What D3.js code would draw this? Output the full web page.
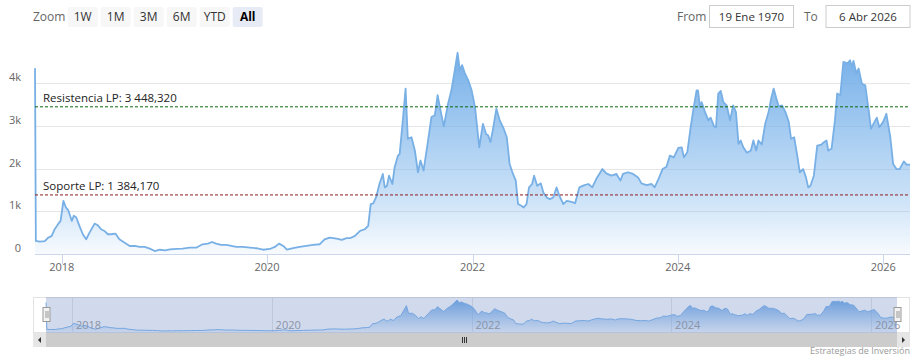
<!DOCTYPE html>
<html>
<head>
<meta charset="utf-8">
<script src="https://cdn.jsdelivr.net/npm/d3@7"></script>
<style>
  body { margin: 0; background: #fff; }
  svg { font-family: "Open Sans", sans-serif; display: block; }
</style>
</head>
<body>
<script>
// weekly-ish closes
var dates = [
  "2017-09-28","2017-10-01","2017-10-15","2017-11-02","2017-11-14","2017-11-26","2017-12-07","2017-12-19","2017-12-28",
  "2018-01-07","2018-01-16","2018-01-24","2018-02-06","2018-02-13","2018-02-22","2018-03-05","2018-03-17","2018-03-29",
  "2018-04-10","2018-04-28","2018-05-09","2018-05-21","2018-06-02","2018-06-14","2018-06-26","2018-07-11","2018-07-25",
  "2018-08-13","2018-08-31","2018-09-18","2018-10-05","2018-10-23","2018-11-10","2018-11-28","2018-12-16",
  "2019-01-03","2019-01-21","2019-02-13","2019-03-07","2019-04-01","2019-04-24","2019-05-17","2019-06-05","2019-06-20",
  "2019-07-04","2019-07-22","2019-08-10","2019-08-27","2019-09-14","2019-10-07","2019-11-01","2019-11-24","2019-12-18",
  "2020-01-11","2020-01-29","2020-02-13","2020-02-28","2020-03-12","2020-04-03","2020-04-26","2020-05-20","2020-06-13",
  "2020-07-06","2020-07-24","2020-08-11","2020-09-05","2020-09-23","2020-10-10","2020-10-22","2020-11-09","2020-11-27",
  "2020-12-14","2020-12-26","2021-01-04","2021-01-13","2021-01-23","2021-02-04","2021-02-16","2021-02-23","2021-03-03",
  "2021-03-10","2021-03-22","2021-03-30","2021-04-11","2021-04-17","2021-04-27","2021-05-08","2021-05-16","2021-05-29",
  "2021-06-10","2021-06-21","2021-06-30","2021-07-11","2021-07-27","2021-08-08","2021-08-20","2021-08-30","2021-09-07",
  "2021-09-21","2021-10-06","2021-10-18","2021-10-30","2021-11-09","2021-11-17","2021-11-25","2021-12-05","2021-12-17",
  "2021-12-29","2022-01-10","2022-01-25","2022-02-07","2022-02-18","2022-02-26","2022-03-06","2022-03-14","2022-03-27",
  "2022-04-08","2022-04-22","2022-05-03","2022-05-13","2022-05-25","2022-06-04","2022-06-12","2022-06-24","2022-07-02",
  "2022-07-12","2022-07-21","2022-08-01","2022-08-08","2022-08-19","2022-09-01","2022-09-10","2022-09-22","2022-10-03",
  "2022-10-15","2022-10-27","2022-11-06","2022-11-20","2022-12-02","2022-12-16","2023-01-01","2023-01-16","2023-02-03",
  "2023-02-17","2023-03-03","2023-03-17","2023-04-08","2023-04-22","2023-05-10","2023-05-28","2023-06-11","2023-06-20",
  "2023-07-08","2023-07-26","2023-08-13","2023-08-25","2023-09-12","2023-09-30","2023-10-11","2023-10-27","2023-11-08",
  "2023-11-22","2023-12-04","2023-12-18","2024-01-03","2024-01-15","2024-01-23","2024-02-04","2024-02-16","2024-02-25",
  "2024-03-08","2024-03-13","2024-03-20","2024-03-26","2024-04-07","2024-04-19","2024-04-27","2024-05-09","2024-05-16",
  "2024-05-24","2024-06-02","2024-06-11","2024-06-23","2024-07-05","2024-07-16","2024-07-26","2024-08-04","2024-08-12",
  "2024-08-21","2024-09-03","2024-09-17","2024-09-26","2024-10-06","2024-10-14","2024-10-26","2024-11-07","2024-11-19",
  "2024-11-28","2024-12-07","2024-12-17","2024-12-25","2025-01-06","2025-01-18","2025-01-30","2025-02-07","2025-02-18",
  "2025-03-01","2025-03-10","2025-03-22","2025-04-01","2025-04-09","2025-04-17","2025-04-29","2025-05-11","2025-05-26",
  "2025-06-04","2025-06-13","2025-06-19","2025-07-01","2025-07-13","2025-07-21","2025-08-01","2025-08-12","2025-08-26",
  "2025-09-05","2025-09-11","2025-09-17","2025-09-27","2025-10-05","2025-10-17","2025-10-29","2025-11-10","2025-11-18",
  "2025-11-27","2025-12-09","2025-12-18","2025-12-31","2026-01-12","2026-01-26","2026-02-05","2026-02-17","2026-02-28",
  "2026-03-15","2026-03-25","2026-04-06"
];
var prices = [
  4350,306,290,300,385,420,580,700,775,
  1245,1090,1030,775,895,855,660,463,345,
  500,713,675,580,540,463,463,478,345,
  266,188,188,165,165,125,70,100,
  86,110,118,125,148,148,228,243,282,
  243,212,212,188,165,165,148,135,100,
  118,165,243,188,100,135,165,188,212,
  228,345,385,360,330,370,370,424,540,
  580,660,1170,1185,1325,1640,1875,1560,1600,
  1835,1640,2030,2305,2345,3050,3875,2700,2735,
  2425,1915,2190,1955,2660,3210,3250,3720,3440,
  2990,3520,3835,4305,4715,4305,4425,4230,4070,
  3835,3440,2500,3050,2815,2775,2620,2895,3405,
  3130,2935,2735,2110,1875,1720,1170,1130,1090,
  1170,1560,1640,1835,1600,1655,1440,1325,1285,
  1325,1560,1365,1170,1245,1225,1190,1560,1615,
  1640,1560,1755,1990,1890,1835,1875,1720,1875,
  1915,1875,1795,1655,1615,1640,1560,1795,1990,
  2045,2305,2265,2485,2500,2265,2385,2970,3365,
  3835,3835,3440,3560,3325,3130,3195,2990,2970,
  3760,3820,3560,3480,3130,3480,3325,2580,2660,
  2500,2370,2425,2660,2425,2660,2565,3050,3325,
  3640,3875,3640,3460,3480,3325,3090,2700,2735,
  2305,1915,1990,1795,1560,1600,1835,2540,2565,
  2620,2660,2425,2465,3130,3760,3720,4500,4465,
  4540,4385,4525,4230,4345,3990,3950,3365,2935,
  3050,3195,2970,3090,3285,2735,2110,1990,1990,
  2170,2095,2095
];
var yTicks = [0, 1000, 2000, 3000, 4000];
var yTickLabels = ["0", "1k", "2k", "3k", "4k"];
var xTickYears = [2018, 2020, 2022, 2024, 2026];
var zoomButtons = ["1W", "1M", "3M", "6M", "YTD", "All"];
var levelNames = ["Resistencia LP", "Soporte LP"];
var levelValues = [3448.32, 1384.17];
var levelColors = ["#0a6a0a", "#8b1a1a"];

var parse = d3.timeParse("%Y-%m-%d");
var data = dates.map(function(d, i) { return { date: parse(d), value: prices[i] }; });

var svg = d3.select("body").append("svg")
            .attr("width", 922)
            .attr("height", 364);

var defs = svg.append("defs");

// main plot scales
var x = d3.scaleTime()
          .domain(d3.extent(data, function(d) { return d.date; }))
          .range([35, 910]);
var y = d3.scaleLinear()
          .domain([0, 5000])
          .range([254, 40.6]);

var grad = defs.append("linearGradient")
               .attr("id", "mainFill")
               .attr("gradientUnits", "userSpaceOnUse")
               .attr("x1", 0).attr("x2", 0)
               .attr("y1", 50).attr("y2", 254);
grad.append("stop").attr("offset", 0).attr("stop-color", "#74aee8").attr("stop-opacity", 1);
grad.append("stop").attr("offset", 0.7).attr("stop-color", "#7cb5ec").attr("stop-opacity", 0.42);
grad.append("stop").attr("offset", 1).attr("stop-color", "#7cb5ec").attr("stop-opacity", 0.06);

// gridlines + y labels
svg.append("g").selectAll("line")
   .data(yTicks.slice(1))
   .enter().append("line")
   .attr("x1", 35).attr("x2", 910)
   .attr("y1", function(d) { return Math.round(y(d)) + 0.5; })
   .attr("y2", function(d) { return Math.round(y(d)) + 0.5; })
   .style("stroke", "#e6e6e6");

svg.append("g").selectAll("text")
   .data(yTicks)
   .enter().append("text")
   .attr("x", 21)
   .attr("y", function(d) { return y(d) - 2; })
   .attr("text-anchor", "end")
   .style("font-size", "11px")
   .style("fill", "#666")
   .text(function(d, i) { return yTickLabels[i]; });

// area + line
var area = d3.area()
             .x(function(d) { return x(d.date); })
             .y0(y(0))
             .y1(function(d) { return y(d.value); });
var line = d3.line()
             .x(function(d) { return x(d.date); })
             .y(function(d) { return y(d.value); });

svg.append("path")
   .datum(data)
   .attr("d", area)
   .style("fill", "url(#mainFill)");
svg.append("path")
   .datum(data)
   .attr("d", line)
   .style("fill", "none")
   .style("stroke", "#78b0e6")
   .style("stroke-width", 1.8)
   .style("stroke-linejoin", "round");

// x axis
svg.append("line")
   .attr("x1", 35).attr("x2", 910)
   .attr("y1", 254.5).attr("y2", 254.5)
   .style("stroke", "#ccd6eb");
var yearTicks = xTickYears.map(function(yr) { return new Date(yr, 0, 1); });
svg.append("g").selectAll("line")
   .data(yearTicks)
   .enter().append("line")
   .attr("x1", function(d) { return Math.round(x(d)) + 0.5; })
   .attr("x2", function(d) { return Math.round(x(d)) + 0.5; })
   .attr("y1", 255).attr("y2", 264)
   .style("stroke", "#ccd6eb");
svg.append("g").selectAll("text")
   .data(yearTicks)
   .enter().append("text")
   .attr("x", function(d) { return x(d); })
   .attr("y", 271)
   .attr("text-anchor", "middle")
   .style("font-size", "11px")
   .style("fill", "#666")
   .text(function(d) { return d.getFullYear(); });

// support / resistance
var fmt = function(v) {
  var s = v.toFixed(3).split(".");
  return s[0].replace(/\B(?=(\d{3})+(?!\d))/g, " ") + "," + s[1];
};
levelValues.forEach(function(v, i) {
  svg.append("line")
     .attr("x1", 35).attr("x2", 910)
     .attr("y1", y(v)).attr("y2", y(v))
     .style("stroke", levelColors[i])
     .style("stroke-width", 1)
     .style("stroke-dasharray", "3,2");
  svg.append("text")
     .attr("x", 43)
     .attr("y", y(v) - 5)
     .style("font-size", "11.5px")
     .style("fill", "#222")
     .text(levelNames[i] + ": " + fmt(v));
});

// range selector
svg.append("text")
   .attr("x", 33).attr("y", 21)
   .style("font-size", "12px")
   .style("fill", "#666")
   .text("Zoom");
var btn = svg.append("g").selectAll("g")
             .data(zoomButtons)
             .enter().append("g")
             .attr("transform", function(d, i) { return "translate(" + (67.7 + 33 * i) + ",7)"; });
btn.append("rect")
   .attr("width", 30).attr("height", 20)
   .attr("rx", 2)
   .style("fill", function(d) { return d == "All" ? "#e6ebf5" : "#f7f7f7"; });
btn.append("text")
   .attr("x", 15).attr("y", 14)
   .attr("text-anchor", "middle")
   .style("font-size", "12px")
   .style("font-weight", function(d) { return d == "All" ? "bold" : "normal"; })
   .style("fill", function(d) { return d == "All" ? "#000" : "#333"; })
   .text(function(d) { return d; });

var fromTo = [
  { label: "From", lx: 677, bx: 709, text: "19 Ene 1970" },
  { label: "To", lx: 804, bx: 825.5, text: "6 Abr 2026" }
];
fromTo.forEach(function(f) {
  svg.append("text")
     .attr("x", f.lx).attr("y", 21)
     .style("font-size", "12px")
     .style("fill", "#666")
     .text(f.label);
  svg.append("rect")
     .attr("x", f.bx + 0.5).attr("y", 5.5)
     .attr("width", 84).attr("height", 22)
     .style("fill", "#fff")
     .style("stroke", "#ccc");
  svg.append("text")
     .attr("x", f.bx + 42.5).attr("y", 21)
     .attr("text-anchor", "middle")
     .style("font-size", "11.5px")
     .style("fill", "#333")
     .text(f.text);
});

// navigator
var nx = d3.scaleTime()
           .domain(x.domain())
           .range([46, 897]);
var ny = d3.scaleLinear()
           .domain(d3.extent(prices))
           .range([331, 300]);

var ngrad = defs.append("linearGradient")
                .attr("id", "navFill")
                .attr("gradientUnits", "userSpaceOnUse")
                .attr("x1", 0).attr("x2", 0)
                .attr("y1", 300).attr("y2", 333);
ngrad.append("stop").attr("offset", 0).attr("stop-color", "#6fa8e6").attr("stop-opacity", 1);
ngrad.append("stop").attr("offset", 1).attr("stop-color", "#7cb5ec").attr("stop-opacity", 0.1);

svg.append("rect")
   .attr("x", 33.5).attr("y", 297.5)
   .attr("width", 876).attr("height", 35)
   .style("fill", "#fff")
   .style("stroke", "#e3e3e3");

svg.append("g").selectAll("line")
   .data(yearTicks)
   .enter().append("line")
   .attr("x1", function(d) { return Math.round(nx(d)) + 0.5; })
   .attr("x2", function(d) { return Math.round(nx(d)) + 0.5; })
   .attr("y1", 297).attr("y2", 333)
   .style("stroke", "#e6e6e6");

svg.append("path")
   .datum(data)
   .attr("d", d3.area()
                .x(function(d) { return nx(d.date); })
                .y0(333)
                .y1(function(d) { return ny(d.value); }))
   .style("fill", "url(#navFill)");
svg.append("path")
   .datum(data)
   .attr("d", d3.line()
                .x(function(d) { return nx(d.date); })
                .y(function(d) { return ny(d.value); }))
   .style("fill", "none")
   .style("stroke", "#7cb5ec")
   .style("stroke-width", 1);

svg.append("g").selectAll("text")
   .data(yearTicks)
   .enter().append("text")
   .attr("x", function(d) { return nx(d) + 4; })
   .attr("y", 329)
   .style("font-size", "11px")
   .style("fill", "#999")
   .text(function(d) { return d.getFullYear(); });

// mask over the selected range (everything, "All")
svg.append("rect")
   .attr("x", 46).attr("y", 297)
   .attr("width", 851).attr("height", 36)
   .style("fill", "rgba(102,133,194,0.3)");

// handles
[46, 897].forEach(function(hx) {
  var h = svg.append("g").attr("transform", "translate(" + (hx - 3.5) + ",307)");
  h.append("rect")
   .attr("x", 0.5).attr("y", 0.5)
   .attr("width", 7).attr("height", 14)
   .style("fill", "#f2f2f2")
   .style("stroke", "#999");
  h.append("path")
   .attr("d", "M3.5,4V11M5.5,4V11")
   .style("stroke", "#999");
});

// scrollbar
svg.append("rect")
   .attr("x", 33).attr("y", 333)
   .attr("width", 877).attr("height", 14)
   .style("fill", "#f2f2f2");
svg.append("rect")
   .attr("x", 46).attr("y", 333)
   .attr("width", 851).attr("height", 14)
   .style("fill", "#cccccc");
[33, 897].forEach(function(bx, i) {
  svg.append("rect")
     .attr("x", bx).attr("y", 333)
     .attr("width", 13).attr("height", 14)
     .style("fill", "#e6e6e6");
  svg.append("path")
     .attr("d", i == 0 ? "M" + (bx + 8) + ",337L" + (bx + 5) + ",340L" + (bx + 8) + ",343Z"
                       : "M" + (bx + 5) + ",337L" + (bx + 8) + ",340L" + (bx + 5) + ",343Z")
     .style("fill", "#333");
});
svg.append("path")
   .attr("d", "M462.5,337V343M464.5,337V343M466.5,337V343")
   .style("stroke", "#333");

// credits
svg.append("text")
   .attr("x", 910).attr("y", 354)
   .attr("text-anchor", "end")
   .style("font-size", "9px")
   .style("fill", "#999")
   .text("Estrategias de Inversión");
</script>
</body>
</html>
